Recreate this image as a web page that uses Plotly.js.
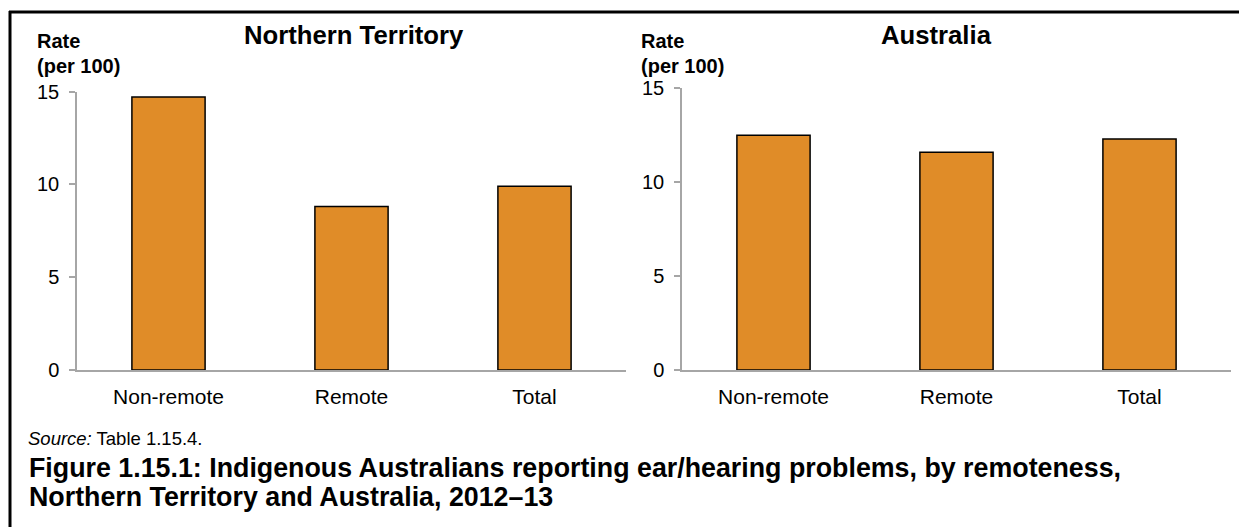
<!DOCTYPE html>
<html>
<head>
<meta charset="utf-8">
<script src="https://cdn.plot.ly/plotly-3.0.1.min.js"></script>
<style>
  html, body { margin: 0; padding: 0; background: #fff; }
  #chart { width: 1239px; height: 527px; }
</style>
</head>
<body>
<div id="chart"></div>
<script>
// ---- data ----
const categories = ["Non-remote", "Remote", "Total"];
const ntRates = [14.7, 8.8, 9.9];
const ausRates = [12.5, 11.6, 12.3];
const yTicks = [0, 5, 10, 15];
const panelTitles = ["Northern Territory", "Australia"];
const yTitleLines = ["Rate", "(per 100)"];
const sourceNote = "<i>Source:</i> Table 1.15.4.";
const captionLines = [
  "Figure 1.15.1: Indigenous Australians reporting ear/hearing problems, by remoteness,",
  "Northern Territory and Australia, 2012\u201313"
];

// ---- geometry helpers (pixel -> paper) ----
const W = 1239, H = 527;
const M = {l: 77, r: 8, t: 88, b: 157};
const PW = W - M.l - M.r, PH = H - M.t - M.b;
const px = x => (x - M.l) / PW;
const py = y => (H - M.b - y) / PH;

const FONT = "Liberation Sans, Arial, sans-serif";
const barColor = "#E08C28";

function barTrace(vals, xa, ya) {
  return {
    type: "bar", x: categories, y: vals, xaxis: xa, yaxis: ya,
    marker: {color: barColor, line: {color: "#000", width: 1.5}},
    hoverinfo: "x+y", showlegend: false
  };
}

const axisY = {
  range: [0, 15], tickvals: yTicks, ticktext: yTicks.map(String),
  showgrid: false, zeroline: false, showline: true, linecolor: "#a6a6a6", linewidth: 1.5,
  ticks: "outside", ticklen: 6, tickcolor: "#a6a6a6", tickwidth: 1.5,
  tickfont: {family: FONT, size: 20, color: "#000"}, ticklabelstandoff: 6, fixedrange: true
};
const axisX = {
  showgrid: false, zeroline: false, showline: true, linecolor: "#a6a6a6", linewidth: 1.5,
  ticks: "", tickfont: {family: FONT, size: 21, color: "#000"}, ticklabelstandoff: 7, fixedrange: true
};

const ann = [];
function addText(text, xPix, yPix, size, bold, anchor) {
  ann.push({
    text: bold ? "<b>" + text + "</b>" : text,
    xref: "paper", yref: "paper", x: px(xPix), y: py(yPix),
    xanchor: anchor || "left", yanchor: "middle", showarrow: false,
    font: {family: FONT, size: size, color: "#000"}
  });
}
addText(panelTitles[0], 354, 35, 25.7, true, "center");
addText(panelTitles[1], 936, 35, 25.7, true, "center");
addText(yTitleLines[0], 35, 41, 20, true);
addText(yTitleLines[1], 35, 66, 20, true);
addText(yTitleLines[0], 639, 41, 20, true);
addText(yTitleLines[1], 639, 66, 20, true);
addText(sourceNote, 26, 438, 18.5, false);
addText(captionLines[0], 27, 468, 26.8, true);
addText(captionLines[1], 27, 497, 26.8, true);

const shapes = [
  {type: "line", xref: "paper", yref: "paper", x0: px(9), x1: px(1245), y0: py(12), y1: py(12),
   line: {color: "#000", width: 3}},
  {type: "line", xref: "paper", yref: "paper", x0: px(10), x1: px(10), y0: py(11), y1: py(535),
   line: {color: "#000", width: 3}}
];

const layout = {
  width: W, height: H, margin: M,
  paper_bgcolor: "#fff", plot_bgcolor: "#fff",
  bargap: 0.6, showlegend: false,
  font: {family: FONT, color: "#000"},
  xaxis: Object.assign({}, axisX, {domain: [0, px(626)], anchor: "y"}),
  yaxis: Object.assign({}, axisY, {domain: [0, py(91.5)], anchor: "x"}),
  xaxis2: Object.assign({}, axisX, {domain: [px(682), 1], anchor: "y2"}),
  yaxis2: Object.assign({}, axisY, {domain: [0, py(88.3)], anchor: "x2"}),
  annotations: ann, shapes: shapes
};

Plotly.newPlot("chart", [barTrace(ntRates, "x", "y"), barTrace(ausRates, "x2", "y2")], layout,
  {displayModeBar: false, staticPlot: false});
</script>
</body>
</html>
